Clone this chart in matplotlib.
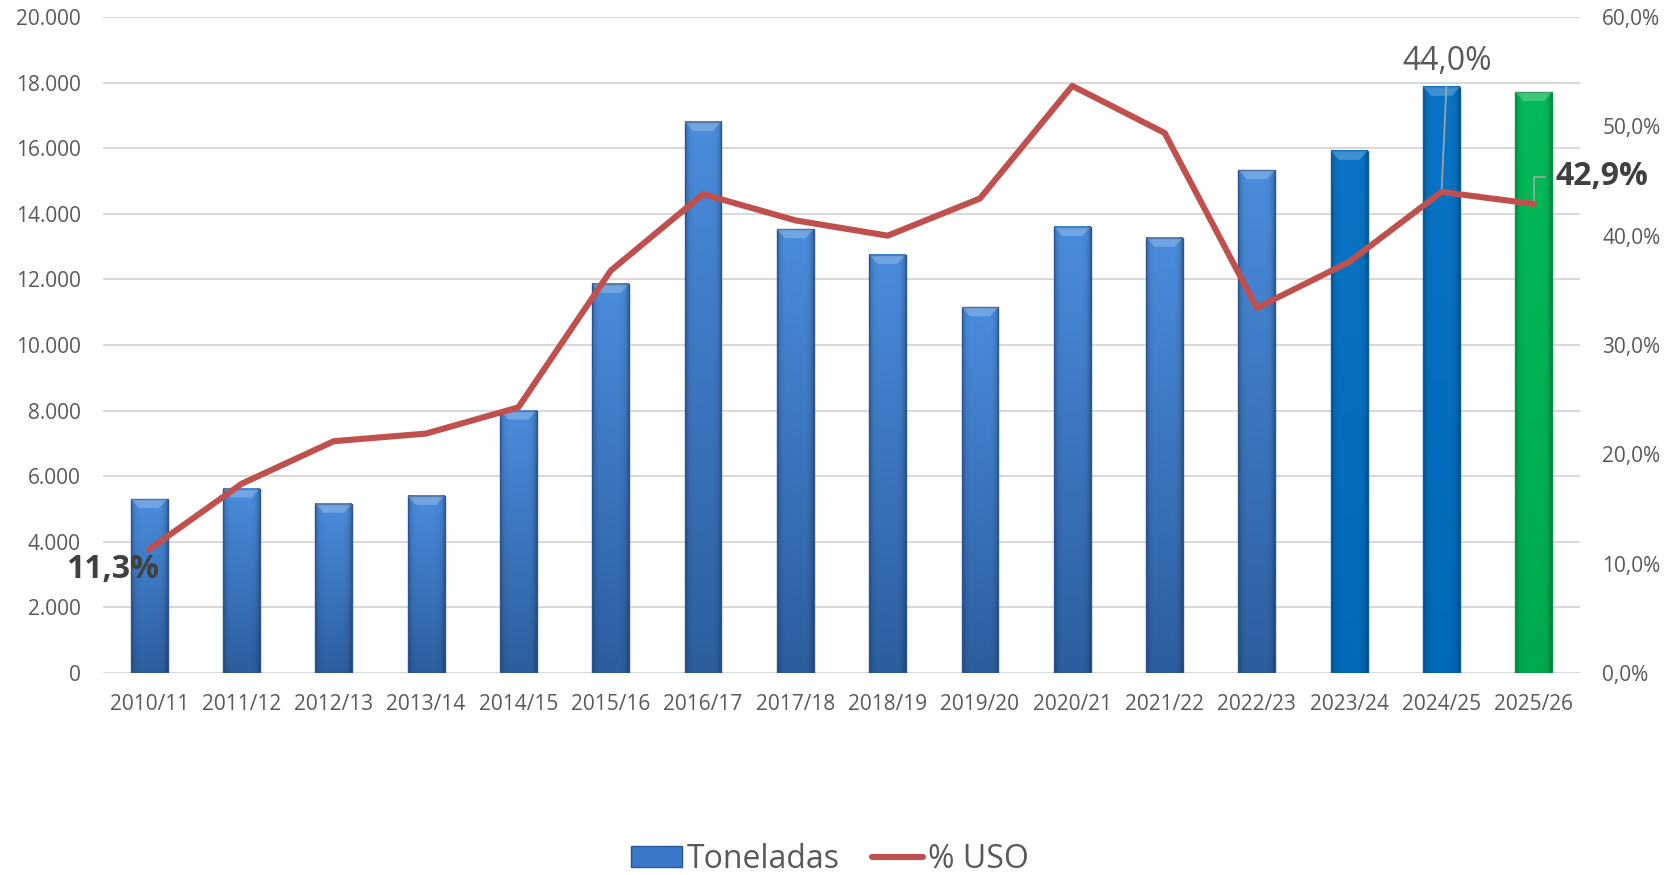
# -------------------------------------------------------------------------------------
# Libraries
import numpy as np
import matplotlib
matplotlib.use('Agg')
import matplotlib.pyplot as plt
from matplotlib.colors import to_rgb
from matplotlib.patches import Rectangle, Polygon, Patch
from matplotlib.lines import Line2D
from matplotlib.ticker import FuncFormatter, MultipleLocator
# -------------------------------------------------------------------------------------

# -------------------------------------------------------------------------------------
# Data
campaigns = ['2010/11', '2011/12', '2012/13', '2013/14', '2014/15', '2015/16', '2016/17', '2017/18',
             '2018/19', '2019/20', '2020/21', '2021/22', '2022/23', '2023/24', '2024/25', '2025/26']
toneladas = [5300, 5620, 5160, 5400, 8000, 11860, 16800, 13530,
             12750, 11150, 13600, 13270, 15330, 15920, 17870, 17710]
uso_pct = [11.3, 17.3, 21.2, 21.9, 24.3, 36.8, 43.8, 41.4,
           40.0, 43.4, 53.7, 49.4, 33.4, 37.6, 44.0, 42.9]
# bar style group per campaign: 0 = standard, 1 = blue, 2 = green
bar_group = [0] * 13 + [1, 1, 2]
# -------------------------------------------------------------------------------------

# styles (top colour, bottom colour, edge colour)
group_colors = {0: ('#4A8DDD', '#2D5E9F', '#2A5590'),
                1: ('#0A74C6', '#0069B8', '#0B5A99'),
                2: ('#05BA58', '#00AA4D', '#0A8F45')}
color_line = '#C0504D'
color_grid = '#D9D9D9'
color_text = '#595959'
color_label = '#404040'

plt.rcParams['font.family'] = ['Open Sans', 'DejaVu Sans']


# -------------------------------------------------------------------------------------
# Method to build a bevel-like gradient for a bar
def bar_gradient(col_top, col_bot, nx=40, ny=120):
    xs = np.linspace(-1, 1, nx)
    shade = 1 - 0.28 * np.abs(xs) ** 6
    ys = np.linspace(0, 1, ny)[:, None, None]
    top = np.array(to_rgb(col_top))
    bot = np.array(to_rgb(col_bot))
    base = bot + (top - bot) * ys
    return np.clip(base * shade[None, :, None], 0, 1)
# -------------------------------------------------------------------------------------


fig = plt.figure(figsize=(16.8, 8.75), dpi=100)
ax = fig.add_axes([103 / 1680, 1 - 673 / 875, (1580 - 103) / 1680, (673 - 17) / 875])

x_pos = np.arange(len(campaigns))
bar_w = 0.4
px_per_unit = 656 / 20000.0

for xi, h, g in zip(x_pos, toneladas, bar_group):
    c_top, c_bot, c_edge = group_colors[g]
    img = bar_gradient(c_top, c_bot)
    ax.imshow(img, extent=[xi - bar_w / 2, xi + bar_w / 2, 0, h], origin='lower',
              aspect='auto', interpolation='bilinear', zorder=2)
    ax.add_patch(Rectangle((xi - bar_w / 2, 0), bar_w, h, facecolor='none',
                           edgecolor=c_edge, lw=1.0, zorder=3))
    # top bevel highlight
    bev = 9 / px_per_unit
    ax.add_patch(Polygon([(xi - bar_w / 2, h), (xi + bar_w / 2, h),
                          (xi + bar_w / 2 - 0.09, h - bev), (xi - bar_w / 2 + 0.09, h - bev)],
                         closed=True, facecolor='white', alpha=0.22, edgecolor='none', zorder=3))

ax.set_xlim(-0.5, len(campaigns) - 0.5)
ax.set_ylim(0, 20000)
ax.yaxis.set_major_locator(MultipleLocator(2000))
ax.yaxis.set_major_formatter(FuncFormatter(lambda v, p: '{:,.0f}'.format(v).replace(',', '.')))
ax.set_xticks(x_pos)
ax.set_xticklabels(campaigns)
ax.grid(axis='y', color=color_grid, lw=1.5, zorder=0)
ax.set_axisbelow(True)
for s in ax.spines.values():
    s.set_visible(False)
ax.tick_params(axis='both', length=0, labelsize=15, labelcolor=color_text)
ax.tick_params(axis='y', pad=16)
ax.tick_params(axis='x', pad=15)

# Line on secondary axis
ax2 = ax.twinx()
ax2.plot(x_pos, uso_pct, color=color_line, lw=4.4, solid_capstyle='round', solid_joinstyle='round', zorder=5)
ax2.set_ylim(0, 60)
ax2.yaxis.set_major_locator(MultipleLocator(10))
ax2.yaxis.set_major_formatter(FuncFormatter(lambda v, p: '{:.1f}%'.format(v).replace('.', ',')))
for s in ax2.spines.values():
    s.set_visible(False)
ax2.tick_params(axis='y', length=0, labelsize=15, labelcolor=color_text, pad=16)

# Labels
ax2.annotate('11,3%', (x_pos[0], uso_pct[0]), xytext=(-37, -20), textcoords='offset pixels',
             ha='center', va='center', fontsize=23, fontweight='bold', color=color_label, zorder=6)
ax2.annotate('44,0%', (x_pos[14], uso_pct[14]), xytext=(6, 130), textcoords='offset pixels',
             ha='center', va='center', fontsize=23, color=color_text,
             arrowprops=dict(arrowstyle='-', color='#A6A6A6', lw=1.2, shrinkA=4, shrinkB=0))
ax2.annotate('42,9%', (x_pos[15], uso_pct[15]), xytext=(22, 27), textcoords='offset pixels',
             ha='left', va='center', fontsize=23, fontweight='bold', color=color_label,
             arrowprops=dict(arrowstyle='-', color='#A6A6A6', lw=1.2, shrinkA=6, shrinkB=0,
                             relpos=(0, 0.5), connectionstyle='angle,angleA=0,angleB=90,rad=0'))

# Legend
handles = [Patch(facecolor='#3A78C9', edgecolor='#2A5590'),
           Line2D([0], [0], color=color_line, lw=4.4, solid_capstyle='round')]
leg = fig.legend(handles, ['Toneladas', '% USO'], loc='center', bbox_to_anchor=(0.494, 0.018),
                 ncol=2, frameon=False, fontsize=23, handlelength=1.6, handleheight=0.63,
                 handletextpad=0.15, columnspacing=1.0, labelcolor=color_text)

fig.savefig('out.png', dpi=100)
plt.close()
